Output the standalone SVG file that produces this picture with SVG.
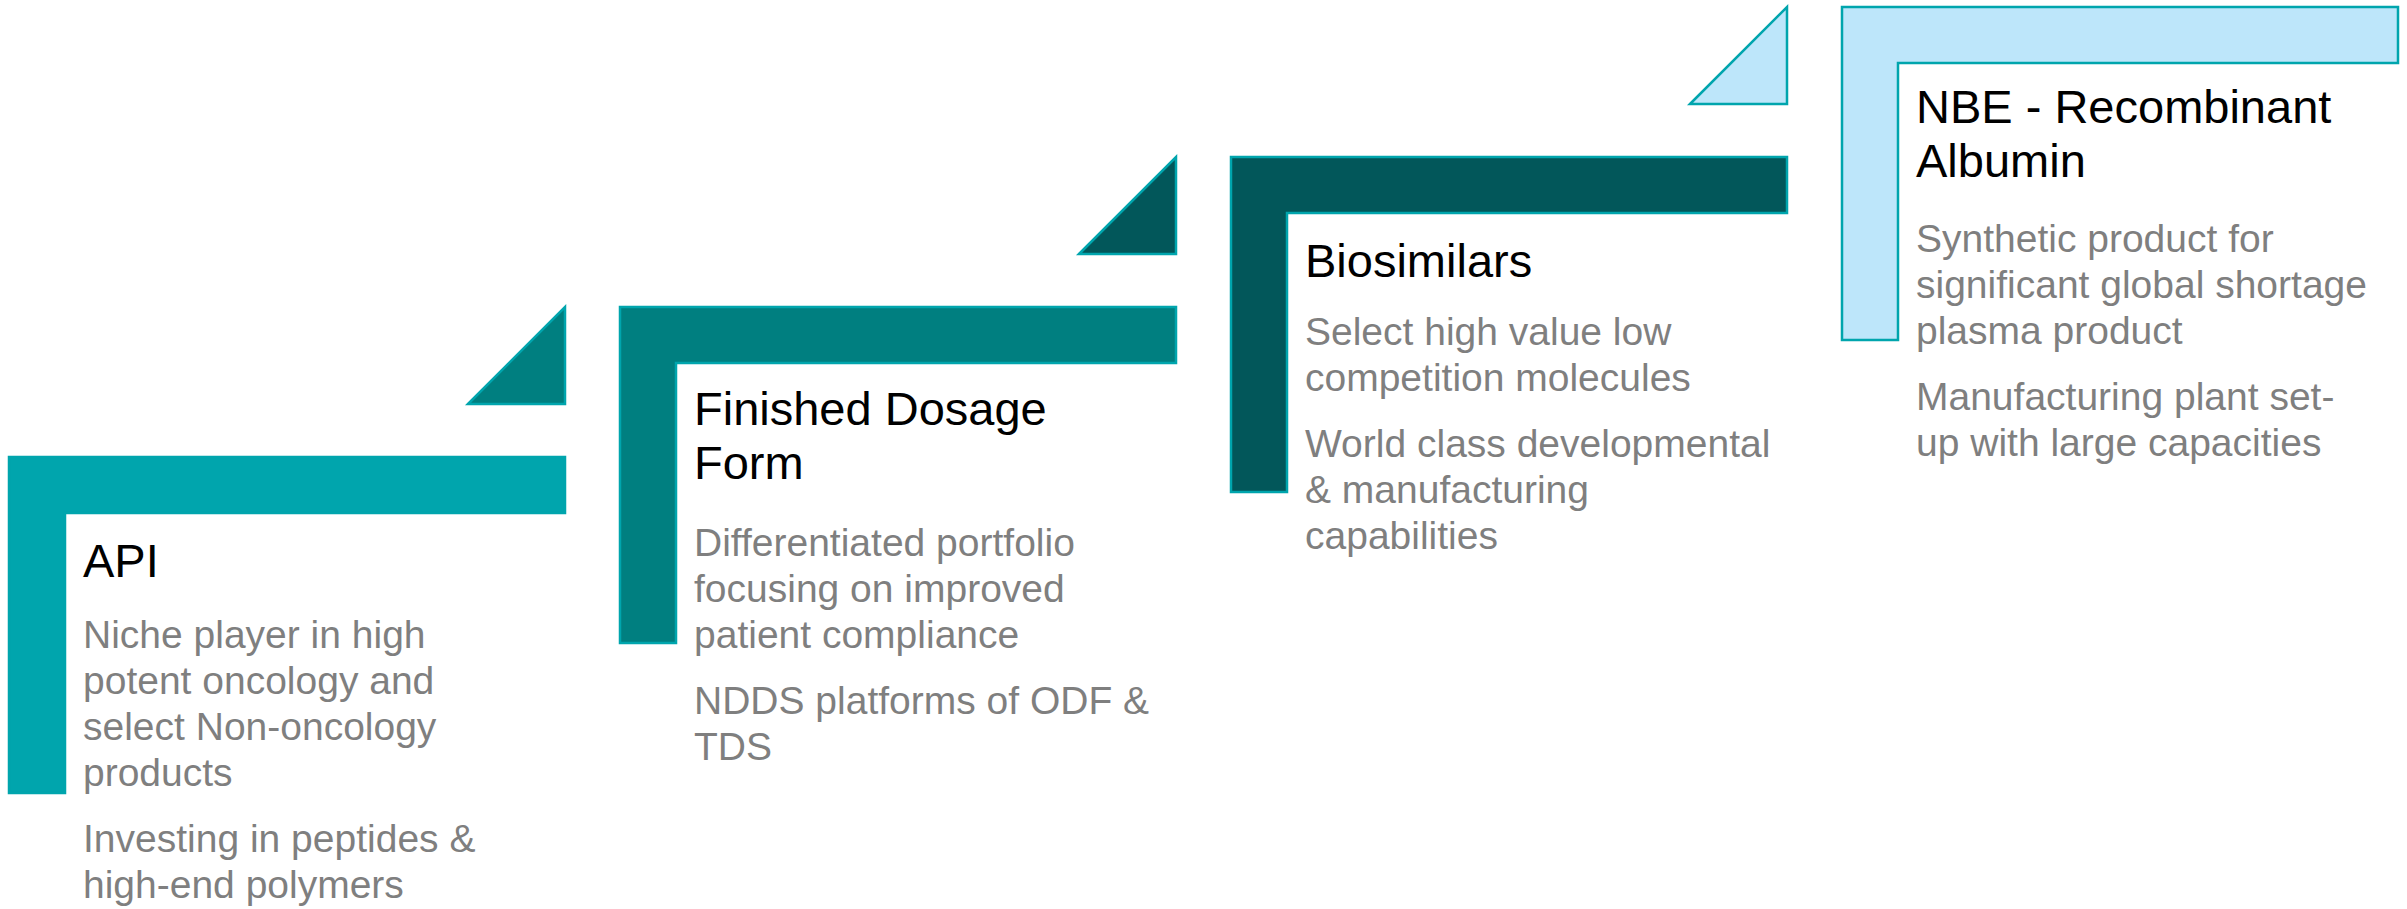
<svg xmlns="http://www.w3.org/2000/svg" width="2407" height="909" viewBox="0 0 2407 909">
<style>
.shape{stroke:#00A5AD;stroke-width:2.5;stroke-linejoin:miter}
.title{font-family:"Liberation Sans",Arial,sans-serif;font-size:47px;fill:#000}
.body{font-family:"Liberation Sans",Arial,sans-serif;font-size:39px;fill:#7F7F7F}
</style>
<rect width="2407" height="909" fill="#fff"/>
<g id="connectors">
<polygon class="shape" fill="#007F80" points="468,404 565,307 565,404"/>
<polygon class="shape" fill="#02575A" points="1079,254 1176,157 1176,254"/>
<polygon class="shape" fill="#BDE6FA" points="1690,104 1787,7 1787,104"/>
</g>
<g id="api">
<path class="shape" fill="#00A5AD" d="M9 457 H565 V513 H65 V793 H9 Z"/>
<text class="title" x="83" y="577">API</text>
<text class="body" x="83" y="648">Niche player in high</text>
<text class="body" x="83" y="694">potent oncology and</text>
<text class="body" x="83" y="740">select Non-oncology</text>
<text class="body" x="83" y="786">products</text>
<text class="body" x="83" y="852">Investing in peptides &amp;</text>
<text class="body" x="83" y="898">high-end polymers</text>
</g>
<g id="fdf">
<path class="shape" fill="#007F80" d="M620 307 H1176 V363 H676 V643 H620 Z"/>
<text class="title" x="694" y="425">Finished Dosage</text>
<text class="title" x="694" y="479">Form</text>
<text class="body" x="694" y="556">Differentiated portfolio</text>
<text class="body" x="694" y="602">focusing on improved</text>
<text class="body" x="694" y="648">patient compliance</text>
<text class="body" x="694" y="714">NDDS platforms of ODF &amp;</text>
<text class="body" x="694" y="760">TDS</text>
</g>
<g id="biosimilars">
<path class="shape" fill="#02575A" d="M1231 157 H1787 V213 H1287 V492 H1231 Z"/>
<text class="title" x="1305" y="277">Biosimilars</text>
<text class="body" x="1305" y="345">Select high value low</text>
<text class="body" x="1305" y="391">competition molecules</text>
<text class="body" x="1305" y="457">World class developmental</text>
<text class="body" x="1305" y="503">&amp; manufacturing</text>
<text class="body" x="1305" y="549">capabilities</text>
</g>
<g id="nbe">
<path class="shape" fill="#BDE6FA" d="M1842 7 H2398 V63 H1898 V340 H1842 Z"/>
<text class="title" x="1916" y="123">NBE - Recombinant</text>
<text class="title" x="1916" y="177">Albumin</text>
<text class="body" x="1916" y="252">Synthetic product for</text>
<text class="body" x="1916" y="298">significant global shortage</text>
<text class="body" x="1916" y="344">plasma product</text>
<text class="body" x="1916" y="410">Manufacturing plant set-</text>
<text class="body" x="1916" y="456">up with large capacities</text>
</g>
</svg>
